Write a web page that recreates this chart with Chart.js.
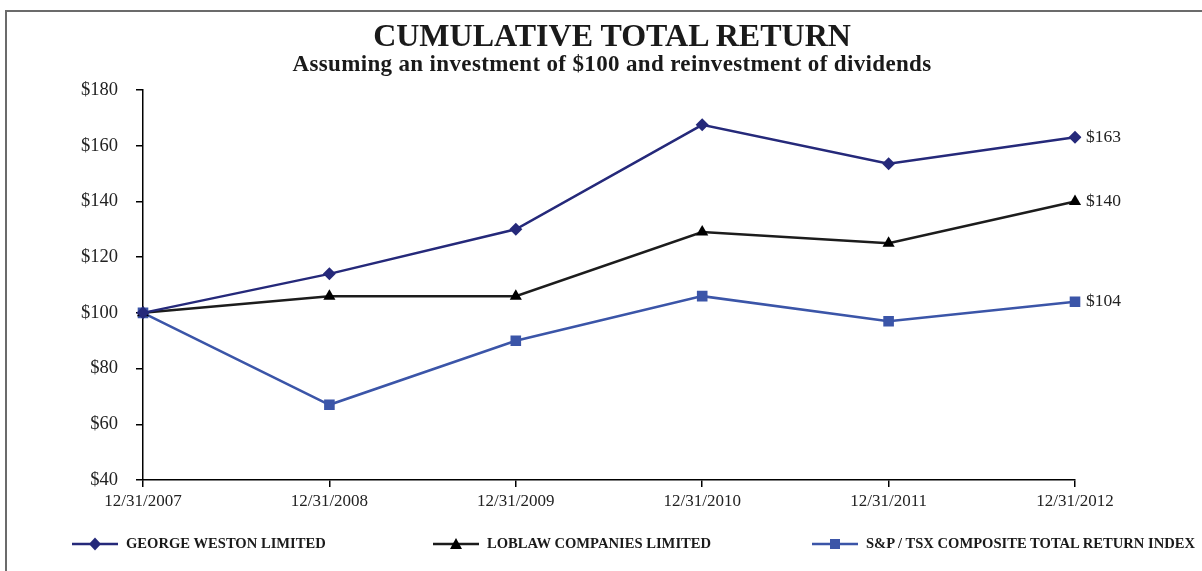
<!DOCTYPE html>
<html>
<head>
<meta charset="utf-8">
<script src="https://cdn.jsdelivr.net/npm/chart.js@4"></script>
<style>
	html, body { margin: 0; padding: 0; background: #fff; overflow: hidden; }
	#wrap { position: relative; width: 1202px; height: 571px; font-family: "Liberation Serif", "Times New Roman", serif; }
	#frame { position: absolute; left: 5px; top: 10px; width: 1400px; height: 800px; border-left: 2px solid #6b6b6b; border-top: 2px solid #6b6b6b; }
	#title { position: absolute; left: 0; width: 1224px; top: 17px; text-align: center; font-weight: bold; font-size: 32px; color: #1a1a1a; }
	#subtitle { position: absolute; left: 0; width: 1224px; top: 51px; text-align: center; font-weight: bold; font-size: 23px; letter-spacing: 0.35px; color: #1a1a1a; }
	canvas { position: absolute; left: 0; top: 0; }
	.leg { position: absolute; top: 535px; font-weight: bold; font-size: 14.6px; color: #1a1a1a; white-space: nowrap; }
	.leg svg { vertical-align: middle; margin-right: 8px; position: relative; top: -1px; }
</style>
</head>
<body>
<div id="wrap">
	<div id="frame"></div>
	<canvas id="myLineChart" width="1202" height="571"></canvas>
	<div id="title">CUMULATIVE TOTAL RETURN</div>
	<div id="subtitle">Assuming an investment of $100 and reinvestment of dividends</div>
	<div class="leg" style="left:72px"><svg width="46" height="14"><line x1="0" y1="7" x2="46" y2="7" stroke="#25297a" stroke-width="2.5"/><polygon points="23,0.5 29,7 23,13.5 17,7" fill="#25297a"/></svg>GEORGE WESTON LIMITED</div>
	<div class="leg" style="left:433px"><svg width="46" height="14"><line x1="0" y1="7" x2="46" y2="7" stroke="#1c1c1c" stroke-width="2.5"/><polygon points="23,1 29,12 17,12" fill="#000"/></svg>LOBLAW COMPANIES LIMITED</div>
	<div class="leg" style="left:812px"><svg width="46" height="14"><line x1="0" y1="7" x2="46" y2="7" stroke="#3b55a8" stroke-width="2.5"/><rect x="18" y="2" width="10" height="10" fill="#3b55a8"/></svg>S&amp;P / TSX COMPOSITE TOTAL RETURN INDEX</div>
</div>
<script>
// 차트 데이터
var dates = ["12/31/2007", "12/31/2008", "12/31/2009", "12/31/2010", "12/31/2011", "12/31/2012"];
var westonValues = [100, 114, 130, 167.5, 153.5, 163];
var loblawValues = [100, 106, 106, 129, 125, 140];
var tsxValues = [100, 67, 90, 106, 97, 104];
var endLabels = ["$163", "$140", "$104"];

// 마지막 점 옆에 값 표시
var endLabelPlugin = {
	id: "endLabels",
	afterDatasetsDraw: function(chart) {
		var ctx = chart.ctx;
		ctx.save();
		ctx.font = "17.5px 'Liberation Serif'";
		ctx.fillStyle = "#222";
		ctx.textBaseline = "middle";
		chart.data.datasets.forEach(function(ds, i) {
			var meta = chart.getDatasetMeta(i);
			var pt = meta.data[meta.data.length - 1];
			ctx.fillText(endLabels[i], pt.x + 11, pt.y);
		});
		ctx.restore();
	}
};

var ctx = document.getElementById("myLineChart").getContext("2d");
window.myLineChart = new Chart(ctx, {
	type: "line",
	data: {
		labels: dates,
		datasets: [{
			label: "GEORGE WESTON LIMITED",
			data: westonValues,
			borderColor: "#25297a",
			backgroundColor: "#25297a",
			borderWidth: 2.5,
			pointStyle: "rectRot",
			pointRadius: 6.5,
			pointBorderWidth: 0,
			tension: 0
		}, {
			label: "LOBLAW COMPANIES LIMITED",
			data: loblawValues,
			borderColor: "#1c1c1c",
			backgroundColor: "#000",
			borderWidth: 2.5,
			pointStyle: "triangle",
			pointRadius: 7,
			pointBorderWidth: 0,
			tension: 0
		}, {
			label: "S&P / TSX COMPOSITE TOTAL RETURN INDEX",
			data: tsxValues,
			borderColor: "#3b55a8",
			backgroundColor: "#3b55a8",
			borderWidth: 2.5,
			pointStyle: "rect",
			pointRadius: 7.5,
			pointBorderWidth: 0,
			tension: 0
		}]
	},
	options: {
		responsive: false,
		animation: false,
		layout: { padding: { left: 0, right: 127, top: 90, bottom: 0 } },
		plugins: {
			legend: { display: false },
			tooltip: { enabled: false }
		},
		scales: {
			x: {
				offset: false,
				afterFit: function(scale) { scale.height = 91; },
				grid: { drawOnChartArea: false, drawTicks: true, tickLength: 7, color: "#000", lineWidth: 1.5 },
				border: { display: true, color: "#000", width: 1.5 },
				ticks: {
					color: "#222",
					padding: 4,
					maxRotation: 0,
					font: { family: "'Liberation Serif'", size: 17 }
				}
			},
			y: {
				min: 40,
				max: 180,
				afterFit: function(scale) { scale.width = 143; },
				grid: { drawOnChartArea: false, drawTicks: true, tickLength: 7, color: "#000", lineWidth: 1.5 },
				border: { display: true, color: "#000", width: 1.5 },
				ticks: {
					stepSize: 20,
					color: "#222",
					padding: 18,
					font: { family: "'Liberation Serif'", size: 18.5 },
					callback: function(v) { return "$" + v; }
				}
			}
		}
	},
	plugins: [endLabelPlugin]
});
</script>
</body>
</html>
